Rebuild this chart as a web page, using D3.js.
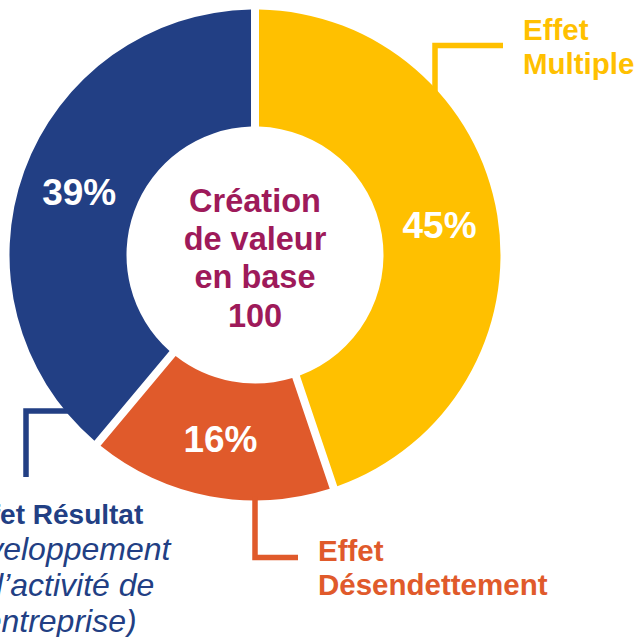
<!DOCTYPE html>
<html>
<head>
<meta charset="utf-8">
<script src="https://cdn.jsdelivr.net/npm/d3@7"></script>
<style>
  html, body { margin: 0; padding: 0; background: #fff; }
  svg { display: block; }
</style>
</head>
<body>
<div id="chart"></div>
<script>
// ---- data ----
const categories = ["Effet Multiple", "Effet Désendettement", "Effet Résultat"];
const values = [45, 16, 39];
const pctLabels = ["45%", "16%", "39%"];
const colors = ["#FFC000", "#E05A2B", "#223F84"];
const centerLines = ["Création", "de valeur", "en base", "100"];
const labelLines = [
  ["Effet", "Multiple"],
  ["Effet", "Désendettement"],
  ["Effet Résultat"]
];
const subLines = ["(Développement", "de l’activité de", "l’entreprise)"];

// ---- layout ----
const W = 636, H = 637;
const cx = 255, cy = 255, R = 245.5, r0 = 128.5, gap = 8;
const font = "'Liberation Sans', Arial, sans-serif";

const svg = d3.select("#chart").append("svg").attr("width", W).attr("height", H);
const g = svg.append("g").attr("transform", `translate(${cx},${cy})`);

const pie = d3.pie().sort(null).value(d => d).padAngle(gap / R);
const arcs = pie(values);
const arc = d3.arc().innerRadius(r0).outerRadius(R).padRadius(R);
const mid = d3.arc().innerRadius(r0).outerRadius(R);

g.selectAll("path.slice").data(arcs).join("path")
  .attr("class", "slice")
  .attr("d", arc)
  .attr("fill", (d, i) => colors[i]);

g.selectAll("text.pct").data(arcs).join("text")
  .attr("class", "pct")
  .attr("x", d => mid.centroid(d)[0])
  .attr("y", d => mid.centroid(d)[1])
  .attr("dy", "0.36em")
  .attr("text-anchor", "middle")
  .attr("font-family", font)
  .attr("font-weight", "bold")
  .attr("font-size", 37)
  .attr("fill", "#fff")
  .text((d, i) => pctLabels[i]);

// center text
g.append("text")
  .attr("text-anchor", "middle")
  .attr("font-family", font)
  .attr("font-weight", "bold")
  .attr("font-size", 32.5)
  .attr("fill", "#9E1A5A")
  .selectAll("tspan").data(centerLines).join("tspan")
  .attr("x", 0)
  .attr("y", (d, i) => -43.3 + i * 38.3)
  .text(d => d);

// ---- leader lines (start on the outer circle) ----
const onCircleY = x => -Math.sqrt(R * R - x * x); // upper half
const lineW = 5.5;
// yellow: vertical at x, up then right
{
  const x = 435 - cx;
  const y0 = onCircleY(x) + 4;
  g.append("path")
    .attr("d", `M${x},${y0}V${45.5 - cy}H${503 - cx}`)
    .attr("fill", "none").attr("stroke", colors[0]).attr("stroke-width", lineW);
}
// orange: vertical from bottom, then right
{
  const x = 255 - cx;
  const y0 = -onCircleY(x) - 4;
  g.append("path")
    .attr("d", `M${x},${y0}V${557.5 - cy}H${298 - cx}`)
    .attr("fill", "none").attr("stroke", colors[1]).attr("stroke-width", lineW);
}
// blue: horizontal to the left, then down
{
  const y = 411 - cy;
  const x0 = -Math.sqrt(R * R - y * y) + 4;
  g.append("path")
    .attr("d", `M${x0},${y}H${26 - cx}V${477 - cy}`)
    .attr("fill", "none").attr("stroke", colors[2]).attr("stroke-width", lineW);
}

// ---- category labels ----
svg.append("text")
  .attr("font-family", font).attr("font-weight", "bold").attr("font-size", 29.5)
  .attr("fill", colors[0])
  .selectAll("tspan").data(labelLines[0]).join("tspan")
  .attr("x", 523).attr("y", (d, i) => 40 + i * 34).text(d => d);

svg.append("text")
  .attr("font-family", font).attr("font-weight", "bold").attr("font-size", 29.5)
  .attr("fill", colors[1])
  .selectAll("tspan").data(labelLines[1]).join("tspan")
  .attr("x", 318).attr("y", (d, i) => 561 + i * 34).text(d => d);

svg.append("text")
  .attr("font-family", font).attr("font-weight", "bold").attr("font-size", 28)
  .attr("fill", colors[2]).attr("text-anchor", "middle")
  .attr("x", 53).attr("y", 524).text(labelLines[2][0]);

svg.append("text")
  .attr("font-family", font).attr("font-style", "italic").attr("font-size", 32)
  .attr("fill", colors[2]).attr("text-anchor", "middle")
  .selectAll("tspan").data(subLines).join("tspan")
  .attr("x", 53).attr("y", (d, i) => 560 + i * 36).text(d => d);
</script>
</body>
</html>
